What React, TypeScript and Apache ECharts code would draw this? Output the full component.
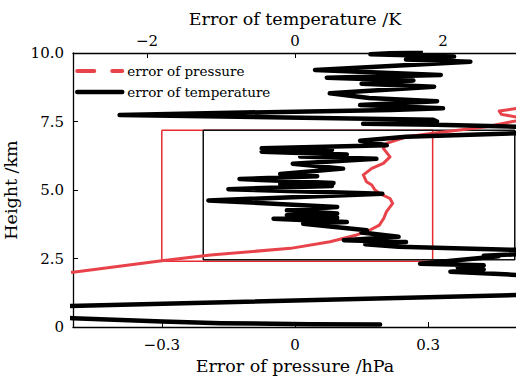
import React, { useEffect, useRef } from 'react';
import * as echarts from 'echarts';

// Error of pressure (hPa) vs height (km)
const presError = [-0.55, -0.5, -0.3, -0.19, -0.01, 0.079, 0.139, 0.169, 0.19, 0.2, 0.206, 0.22, 0.214, 0.19, 0.18, 0.173, 0.161, 0.154, 0.173, 0.199, 0.214, 0.199, 0.206, 0.229, 0.251, 0.311, 0.431, 0.49, 0.53, 0.5, 0.465, 0.46, 0.5, 0.56];
const presHeight = [1.98, 2.0, 2.42, 2.63, 2.87, 3.11, 3.36, 3.54, 3.72, 3.97, 4.21, 4.51, 4.69, 4.88, 5.0, 5.18, 5.3, 5.55, 5.79, 5.97, 6.21, 6.52, 6.7, 6.82, 6.94, 7.07, 7.31, 7.5, 7.6, 7.66, 7.76, 7.88, 7.98, 8.1];

// Error of temperature (K) vs height (km)
const tempError = [1.15, 0.2, -1.0, -1.79, -3.0, -4.0, -4.3, -4.0,
  4.5, 4.3, 3.6, 3.0, 2.1, 2.55, 2.2, 2.55, 1.69, 2.75, 2.55, 3.5,
  3.2, 1.4, 0.95, 1.5, 0.66, 1.4,
  0.9, 0.97, 0.11, 0.7, -0.29, 0.57, -0.11, 0.57, -0.11, 0.57, -1.17, 1.18, -0.9, 0.5, -0.2, 0.52, -0.75, 0.3, -0.2, 0.65, -0.03, 1.1, 0.07, 0.7, -0.45, 0.5, -0.45, 1.24, 0.88, 1.5, 3.0, 3.6,
  3.5, 1.9, 0.92, 1.92, 1.87, -2.37, 0.0, 1.3, 2.0, 0.88, 1.92, 1.0, 0.47, 1.88, 0.9, 1.6, 0.43, 1.97, 0.27, 2.37, 1.5, 2.15, 1.02, 1.7];
const tempHeight = [0.09, 0.1, 0.14, 0.2, 0.32, 0.42, 0.6, 0.7,
  1.27, 1.7, 1.86, 1.9, 2.02, 2.1, 2.18, 2.25, 2.31, 2.58, 2.6, 2.72,
  2.8, 2.93, 3.02, 3.1, 3.17, 3.29,
  3.45, 3.53, 3.77, 3.83, 3.95, 3.99, 4.08, 4.14, 4.26, 4.38, 4.62, 4.86, 5.03, 5.15, 5.22, 5.26, 5.4, 5.5, 5.58, 5.78, 5.96, 6.14, 6.22, 6.3, 6.4, 6.46, 6.52, 6.63, 6.8, 6.94, 7.07, 7.16,
  7.28, 7.38, 7.42, 7.5, 7.56, 7.74, 7.86, 7.92, 7.98, 8.1, 8.24, 8.36, 8.53, 8.77, 8.88, 9.0, 9.1, 9.2, 9.38, 9.68, 9.76, 9.87, 9.95, 10.05];

// Highlight boxes
const presBoxX = [-0.3, 0.31, 0.31, -0.3, -0.3];
const presBoxY = [7.18, 7.18, 2.4, 2.4, 7.18];
const tempBoxX = [-1.24, 2.97, 2.97, -1.24, -1.24];
const tempBoxY = [7.18, 7.18, 2.45, 2.45, 7.18];

const pressureTicks = [-0.3, 0, 0.3];
const temperatureTicks = [-2, 0, 2];
const heightTicks = [0, 2.5, 5, 7.5, 10];

const FONT = 'DejaVu Serif';
const RED = '#e8434a';

const zip = (xs: number[], ys: number[]) => xs.map((x, i) => [x, ys[i]]);
const fmtSigned = (v: number) => (v < 0 ? '\u2212' + String(Math.abs(v)) : String(v));

export default function App() {
  const ref = useRef<HTMLDivElement>(null);
  useEffect(() => {
    if (!ref.current) return;
    const chart = echarts.init(ref.current, undefined, { renderer: 'svg' });
    const axisCommon = {
      type: 'value' as const,
      nameLocation: 'middle' as const,
      nameTextStyle: { fontFamily: FONT, fontSize: 17.5, color: '#000' },
      axisLine: { show: true, onZero: false, lineStyle: { color: '#000', width: 1.3 } },
      splitLine: { show: false },
    };
    chart.setOption({
      animation: false,
      backgroundColor: '#fff',
      grid: { left: 73, top: 53, width: 444, bottom: 51, containLabel: false, outerBoundsMode: 'none' },
      legend: {
        orient: 'vertical',
        left: 70,
        top: 59,
        itemWidth: 45,
        itemHeight: 14,
        itemGap: 7,
        textStyle: { fontFamily: FONT, fontSize: 13.5, color: '#000' },
        itemStyle: { opacity: 0, borderWidth: 0 },
        data: [
          { name: 'error of pressure', itemStyle: { opacity: 0, borderWidth: 0 }, lineStyle: { type: [17, 18], width: 4, color: RED } },
          { name: 'error of temperature', itemStyle: { opacity: 0, borderWidth: 0 }, lineStyle: { width: 4.5, color: '#000' } },
        ],
      },
      xAxis: [
        {
          ...axisCommon,
          position: 'bottom',
          min: -0.5,
          max: 0.5,
          name: 'Error of pressure /hPa',
          nameGap: 27,
          axisTick: { show: true, inside: true, length: 5, customValues: pressureTicks, lineStyle: { color: '#000' } },
          axisLabel: { customValues: pressureTicks, formatter: fmtSigned, margin: 10, fontFamily: FONT, fontSize: 15, color: '#000' },
        },
        {
          ...axisCommon,
          position: 'top',
          min: -3,
          max: 3,
          name: 'Error of temperature /K',
          nameGap: 24,
          axisTick: { show: true, inside: true, length: 5, customValues: temperatureTicks, lineStyle: { color: '#000' } },
          axisLabel: { customValues: temperatureTicks, formatter: fmtSigned, margin: 5, fontFamily: FONT, fontSize: 15, color: '#000' },
        },
      ],
      yAxis: {
        ...axisCommon,
        min: 0,
        max: 10,
        interval: 2.5,
        name: 'Height /km',
        nameGap: 42,
        axisTick: { show: true, inside: true, length: 5, customValues: heightTicks, lineStyle: { color: '#000' } },
        axisLabel: {
          customValues: heightTicks,
          formatter: (v: number) => (v === 0 ? '0' : v.toFixed(1)),
          margin: 9,
          fontFamily: FONT,
          fontSize: 15,
          color: '#000',
        },
      },
      series: [
        {
          name: 'boxP', type: 'line', xAxisIndex: 0, yAxisIndex: 0, data: zip(presBoxX, presBoxY),
          symbol: 'none', silent: true, lineStyle: { color: '#e62a2f', width: 1.5 }, z: 1,
        },
        {
          name: 'boxT', type: 'line', xAxisIndex: 1, yAxisIndex: 0, data: zip(tempBoxX, tempBoxY),
          symbol: 'none', silent: true, lineStyle: { color: '#111', width: 1.5 }, z: 1,
        },
        {
          name: 'error of pressure', type: 'line', xAxisIndex: 0, yAxisIndex: 0, data: zip(presError, presHeight),
          symbol: 'none', color: RED, lineStyle: { color: RED, width: 3, cap: 'round', join: 'round' }, z: 2,
        },
        {
          name: 'error of temperature', type: 'line', xAxisIndex: 1, yAxisIndex: 0, data: zip(tempError, tempHeight),
          symbol: 'none', color: '#000', lineStyle: { color: '#000', width: 4.5, cap: 'round', join: 'round' }, z: 3,
        },
      ],
    });
    return () => chart.dispose();
  }, []);
  return <div ref={ref} style={{ position: 'fixed', left: 0, top: 0, width: 516, height: 378 }} />;
}
